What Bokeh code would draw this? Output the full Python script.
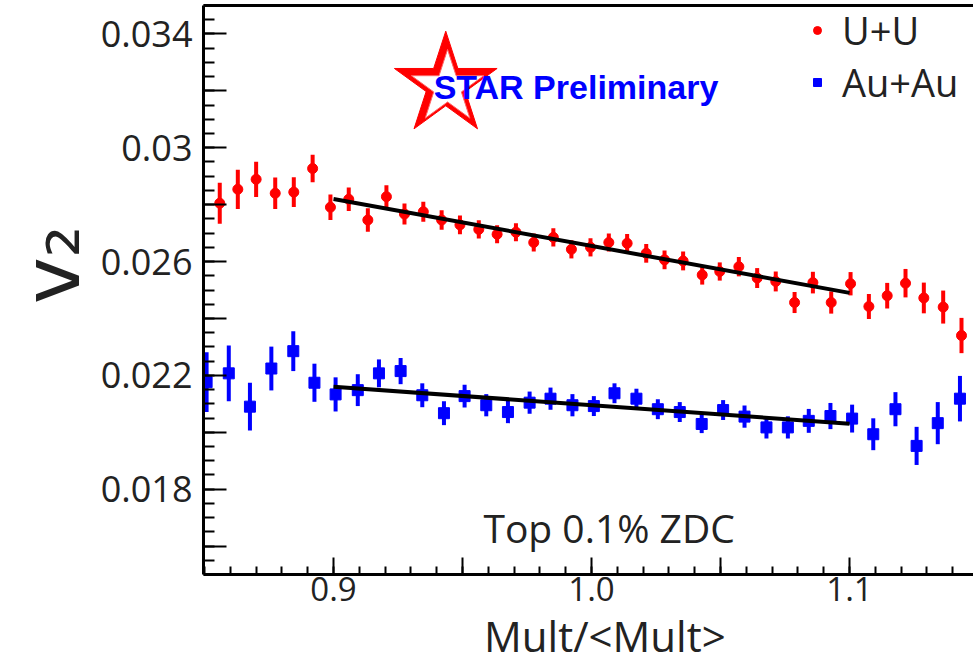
from math import pi
import numpy as np
from bokeh.plotting import figure
from bokeh.models import Range1d, FixedTicker, LinearAxis, Label, Legend, LegendItem
from bokeh.core.properties import value
from bokeh.embed import file_html
from bokeh.resources import INLINE

# ---------------- data ----------------
uu_x = [0.8559, 0.8629, 0.8700, 0.8774, 0.8846, 0.8919, 0.8988, 0.9059, 0.9133, 0.9205,
        0.9275, 0.9348, 0.9419, 0.9490, 0.9563, 0.9634, 0.9707, 0.9776, 0.9852, 0.9922,
        0.9996, 1.0067, 1.0138, 1.0212, 1.0283, 1.0355, 1.0429, 1.0497, 1.0571, 1.0642,
        1.0714, 1.0787, 1.0858, 1.0929, 1.1004, 1.1075, 1.1146, 1.1217, 1.1288, 1.1363, 1.1434]
uu_v2 = [0.02805, 0.02854, 0.02889, 0.02840, 0.02844, 0.02927, 0.02791, 0.02819, 0.02746, 0.02828,
         0.02767, 0.02775, 0.02746, 0.02729, 0.02713, 0.02696, 0.02703, 0.02667, 0.02685, 0.02643,
         0.02650, 0.02667, 0.02664, 0.02629, 0.02606, 0.02602, 0.02553, 0.02565, 0.02582, 0.02542,
         0.02530, 0.02456, 0.02526, 0.02456, 0.02522, 0.02442, 0.02480, 0.02524, 0.02472, 0.02440, 0.02340]
uu_err = [0.00072, 0.00069, 0.00062, 0.00055, 0.00052, 0.00048, 0.00045, 0.00041, 0.00041, 0.00040,
          0.00037, 0.00035, 0.00034, 0.00033, 0.00032, 0.00032, 0.00032, 0.00032, 0.00032, 0.00032,
          0.00032, 0.00032, 0.00033, 0.00033, 0.00033, 0.00033, 0.00034, 0.00032, 0.00034, 0.00035,
          0.00035, 0.00037, 0.00038, 0.00039, 0.00041, 0.00044, 0.00045, 0.00050, 0.00054, 0.00058, 0.00062]

au_x = [0.8508, 0.8594, 0.8676, 0.8759, 0.8844, 0.8926, 0.9008, 0.9094, 0.9176, 0.9260,
        0.9344, 0.9428, 0.9508, 0.9592, 0.9676, 0.9760, 0.9841, 0.9926, 1.0009, 1.0089,
        1.0174, 1.0257, 1.0342, 1.0427, 1.0510, 1.0593, 1.0678, 1.0761, 1.0842, 1.0926,
        1.1010, 1.1092, 1.1178, 1.1260, 1.1342, 1.1428]
au_v2 = [0.02176, 0.02207, 0.02090, 0.02224, 0.02285, 0.02174, 0.02133, 0.02148, 0.02207, 0.02215,
         0.02130, 0.02067, 0.02127, 0.02095, 0.02071, 0.02104, 0.02118, 0.02095, 0.02092, 0.02137,
         0.02118, 0.02081, 0.02071, 0.02029, 0.02078, 0.02055, 0.02017, 0.02017, 0.02040, 0.02057,
         0.02048, 0.01993, 0.02081, 0.01952, 0.02032, 0.02118]
au_err = [0.00105, 0.00098, 0.00084, 0.00077, 0.00070, 0.00067, 0.00060, 0.00056, 0.00049, 0.00046,
          0.00042, 0.00042, 0.00040, 0.00039, 0.00039, 0.00039, 0.00039, 0.00039, 0.00035, 0.00035,
          0.00035, 0.00035, 0.00035, 0.00032, 0.00035, 0.00039, 0.00039, 0.00039, 0.00042, 0.00046,
          0.00049, 0.00056, 0.00060, 0.00067, 0.00074, 0.00080]

fit_x = [0.9, 1.1]
uu_fit = [0.0282, 0.0249]
au_fit = [0.0216, 0.0203]

x_ticks = [0.9, 0.95, 1.0, 1.05, 1.1]
x_tick_labels = ["0.9", "", "1.0", "", "1.1"]
y_ticks = [0.016, 0.018, 0.020, 0.022, 0.024, 0.026, 0.028, 0.030, 0.032, 0.034]
y_tick_labels = ["", "0.018", "", "0.022", "", "0.026", "", "0.03", "", "0.034"]

series_names = ["U+U", "Au+Au"]
x_title = "Mult/<Mult>"
y_title = "v\u2082"
note_text = "Top 0.1% ZDC"
logo_text = "STAR Preliminary"

# ---------------- figure ----------------
FONT = "Open Sans"
INK = "#222222"
NBSP = "\u00a0"

p = figure(frame_width=770, frame_height=569,
           x_range=Range1d(0.8496, 1.14805), y_range=Range1d(0.015, 0.035),
           min_border_left=203, min_border_right=0, min_border_top=5, min_border_bottom=91,
           output_backend="svg", toolbar_location=None, x_axis_type=None, y_axis_type=None)
p.xgrid.visible = False
p.ygrid.visible = False
p.outline_line_color = None
p.background_fill_color = "white"
p.border_fill_color = "white"

# bottom axis
xax = LinearAxis(ticker=FixedTicker(ticks=x_ticks,
                                    minor_ticks=list(np.round(np.arange(0.85, 1.15, 0.01), 3))),
                 major_label_overrides=dict(zip(x_ticks, x_tick_labels)))
xax.axis_label = NBSP * 3 + x_title
xax.major_tick_in = 17
xax.major_tick_out = 0
xax.minor_tick_in = 8
xax.minor_tick_out = 0
xax.major_label_standoff = 2
xax.axis_label_standoff = 3
xax.major_label_text_font_size = "33px"
xax.axis_label_text_font_size = "42px"
xax.axis_label_text_font_style = "normal"
xax.axis_label_text_font = FONT
p.add_layout(xax, "below")

# left axis
yax = LinearAxis(ticker=FixedTicker(ticks=y_ticks,
                                    minor_ticks=list(np.round(np.arange(0.015, 0.0351, 0.0005), 5))),
                 major_label_overrides=dict(zip(y_ticks, y_tick_labels)))
yax.axis_label = NBSP * 2 + y_title
yax.axis_label_text_font = "DejaVu Sans"
yax.axis_label_text_font_size = "79px"
yax.axis_label_text_font_style = "normal"
yax.axis_label_standoff = 0
yax.major_tick_in = 23
yax.major_tick_out = 0
yax.minor_tick_in = 11
yax.minor_tick_out = 0
yax.major_label_standoff = 11
yax.major_label_text_font_size = "36px"
p.add_layout(yax, "left")

# top frame line
top = LinearAxis(ticker=FixedTicker(ticks=[]), major_label_text_font_size="0px",
                 major_label_standoff=0, major_tick_in=0, major_tick_out=0,
                 minor_tick_in=0, minor_tick_out=0)
p.add_layout(top, "above")

for ax in [xax, yax, top]:
    ax.axis_line_color = "black"
    ax.axis_line_width = 3
    ax.major_tick_line_color = "black"
    ax.major_tick_line_width = 2
    ax.minor_tick_line_color = "black"
    ax.minor_tick_line_width = 2
    ax.major_label_text_font = FONT
    ax.major_label_text_color = INK
    ax.axis_label_text_color = INK

# STAR logo star
p.scatter([0.9435], [0.0322], marker="star", size=108, fill_color="red", line_color="red")
p.scatter([0.9442], [0.03212], marker="star", size=76, fill_color="white", line_color="#ff6666", line_width=1)
p.add_layout(Label(x=0.9388, y=0.03212, text=logo_text, text_font="Liberation Sans",
                   text_font_style="bold", text_font_size="34px", text_color="#0000ff",
                   text_baseline="alphabetic"))

# data
uu_lo = [v - e for v, e in zip(uu_v2, uu_err)]
uu_hi = [v + e for v, e in zip(uu_v2, uu_err)]
au_lo = [v - e for v, e in zip(au_v2, au_err)]
au_hi = [v + e for v, e in zip(au_v2, au_err)]

p.segment(uu_x, uu_lo, uu_x, uu_hi, line_color="red", line_width=4)
r_uu = p.scatter(uu_x, uu_v2, marker="circle", size=10, fill_color="red", line_color="red")
p.segment(au_x, au_lo, au_x, au_hi, line_color="blue", line_width=4)
r_au = p.scatter(au_x, au_v2, marker="square", size=11, fill_color="blue", line_color="blue")

p.line(fit_x, uu_fit, line_color="black", line_width=4)
p.line(fit_x, au_fit, line_color="black", line_width=4)

# annotation
p.add_layout(Label(x=0.9581, y=0.01666, text=note_text, text_font=FONT,
                   text_font_size="39px", text_color=INK, text_baseline="alphabetic"))

legend = Legend(items=[LegendItem(label=series_names[0], renderers=[r_uu]),
                       LegendItem(label=series_names[1], renderers=[r_au])],
                location=(604, 466), border_line_color=None, background_fill_alpha=0,
                padding=0, spacing=-8, glyph_width=20, glyph_height=20, label_standoff=15,
                label_text_font=FONT, label_text_font_size="38px", label_text_color=INK)
p.add_layout(legend)

open("out.html", "w").write(file_html(p, INLINE))
